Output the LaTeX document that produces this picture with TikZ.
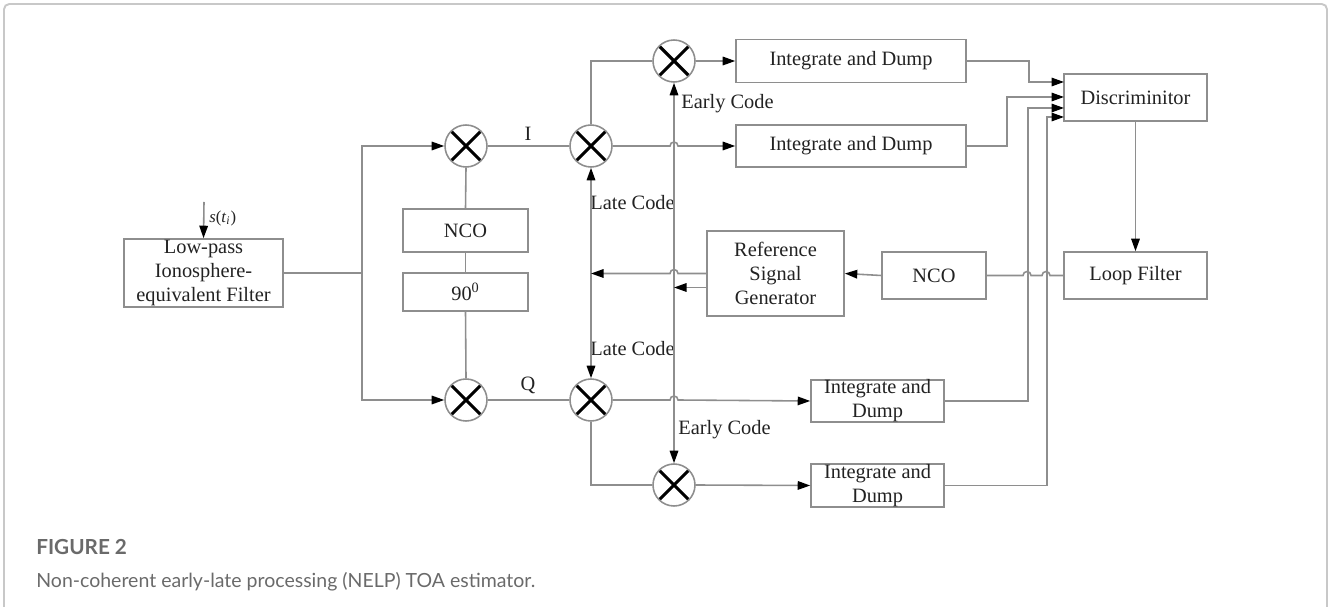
\documentclass[tikz,border=0pt]{standalone}
\usepackage{fontspec}
\setmainfont{Liberation Serif}
\newfontfamily\capfont{Lato}
\usetikzlibrary{arrows.meta}
\definecolor{linegray}{HTML}{8E8E8E}
\definecolor{textgray}{HTML}{222222}
\definecolor{capgray}{HTML}{6A6A6A}
\definecolor{framegray}{HTML}{C8C8C8}
\begin{document}
\begin{tikzpicture}[x=0.02cm, y=-0.02cm,
  font=\fontsize{11.6}{13.7}\selectfont, text=textgray,
  >={Triangle[length=0.25cm,width=0.17cm,color=black]},
  wire/.style={draw=linegray, line width=0.9pt},
  blk/.style={draw=linegray, line width=0.9pt, inner sep=0pt, align=center},
  mixer/.style={circle, draw=linegray, line width=0.9pt, minimum size=0.84cm, inner sep=0pt,
    path picture={\draw[black, line width=1.8pt]
      (path picture bounding box.north west) -- (path picture bounding box.south east)
      (path picture bounding box.north east) -- (path picture bounding box.south west);}},
  lbl/.style={inner sep=0pt}]
\useasboundingbox (0,0) rectangle (1328,607);
\draw[framegray, line width=1.1pt, rounded corners=3pt] (4,607) -- (4,4) -- (1327,4) -- (1327,607);

\node[blk, minimum width=3.18cm, minimum height=1.36cm] (lpf) at (203.5,273) {Low-pass\\Ionosphere-\\equivalent Filter};
\node[blk, minimum width=2.5cm, minimum height=0.86cm] (ncoA) at (465.5,230.5) {NCO};
\node[blk, minimum width=2.5cm, minimum height=0.76cm] (shift) at (465.5,292) {90\textsuperscript{0}};
\node[mixer] (mixI) at (466,146) {};
\node[mixer] (mixQ) at (466,400) {};
\node[mixer] (mixIl) at (591,146) {};
\node[mixer] (mixQl) at (591,400) {};
\node[mixer] (mixIe) at (674,61) {};
\node[mixer] (mixQe) at (674,485) {};
\node[blk, minimum width=4.6cm, minimum height=0.86cm] (intIe) at (851,61) {Integrate and Dump};
\node[blk, minimum width=4.6cm, minimum height=0.84cm] (intIl) at (851,146) {Integrate and Dump};
\node[blk, minimum width=2.66cm, minimum height=0.84cm] (intQl) at (877.5,401) {Integrate and\\Dump};
\node[blk, minimum width=2.66cm, minimum height=0.86cm] (intQe) at (877.5,485.5) {Integrate and\\Dump};
\node[blk, minimum width=2.74cm, minimum height=1.7cm] (refgen) at (775.5,273.5) {Reference\\Signal\\Generator};
\node[blk, minimum width=2.08cm, minimum height=0.94cm] (ncoB) at (934,275.5) {NCO};
\node[blk, minimum width=2.86cm, minimum height=0.94cm] (disc) at (1135.5,97.5) {Discriminitor};
\node[blk, minimum width=2.86cm, minimum height=0.94cm] (loopf) at (1135.5,275.5) {Loop Filter};

\node[lbl] (labI) at (528,134) {I};
\node[lbl] (labQ) at (528,385) {Q};
\node[lbl, anchor=west] (earlyI) at (681,104) {Early Code};
\node[lbl, anchor=west] (lateI) at (590,203) {Late Code};
\node[lbl, anchor=west] (lateQ) at (590,349) {Late Code};
\node[lbl, anchor=west] (earlyQ) at (678,430) {Early Code};
\coordinate (sig) at (204,202);
\node[lbl, anchor=west, font=\fontsize{9.5}{11}\selectfont] (sigl) at (209,218) {\textit{s}(\textit{t}\textsubscript{\textit{i}})};

\coordinate (split) at (362,273);
\coordinate (rg2) at ([yshift=-0.28cm]refgen.west);
\coordinate (in1) at (1064,82);
\coordinate (in2) at (1064,97);
\coordinate (in3) at (1064,108);
\coordinate (in4) at (1064,117);

\draw[wire, ->] (sig) -- (lpf.north);
\draw[wire] (lpf.east) -- (split);
\draw[wire, ->] (split) |- (mixI.west);
\draw[wire, ->] (split) |- (mixQ.west);
\draw[wire] (mixI.south) -- (ncoA.north);
\draw[wire] (ncoA.south) -- (shift.north);
\draw[wire] (shift.south) -- (mixQ.north);
\draw[wire] (mixI.east) -- (mixIl.west);
\draw[wire] (mixQ.east) -- (mixQl.west);
\draw[wire, ->] (mixIl.east) -- (670,146) arc[start angle=180, end angle=360, radius=4] -- (intIl.west);
\draw[wire, ->] (mixQl.east) -- (670,400) arc[start angle=180, end angle=360, radius=4] -- (intQl.west);
\draw[wire] (mixIl.north) |- (mixIe.west);
\draw[wire] (mixQl.south) |- (mixQe.west);
\draw[wire, ->] (mixIe.east) -- (intIe.west);
\draw[wire, ->] (mixQe.east) -- (intQe.west);
\draw[wire, <->] (mixIl.south) -- (mixQl.north);
\draw[wire, <->] (mixIe.south) -- (mixQe.north);
\draw[wire, ->] (refgen.west) -- (678,273.5) arc[start angle=0, end angle=-180, radius=4] -- (mixIl |- refgen.west);
\draw[wire, ->] (rg2) -- (mixIe |- rg2);
\draw[wire, ->] (ncoB.west) -- (refgen.east);
\draw[wire] (loopf.west) -- (1050,275.5) arc[start angle=0, end angle=-180, radius=4]
  -- (1031,275.5) arc[start angle=0, end angle=-180, radius=4] -- (ncoB.east);
\draw[wire, ->] (disc.south) -- (loopf.north);
\draw[wire, ->] (intIe.east) -- ++(62,0) |- (in1);
\draw[wire, ->] (intIl.east) -- ++(40,0) |- (in2);
\draw[wire, ->] (intQl.east) -- ++(83,0) |- (in3);
\draw[wire, ->] (intQe.east) -- ++(102,0) |- (in4);

\node[anchor=west, inner sep=0pt, font=\capfont\bfseries\fontsize{11.8}{13}\selectfont, text=capgray] (fignum) at (36,547) {FIGURE 2};
\node[anchor=west, inner sep=0pt, font=\capfont\fontsize{11.1}{13}\selectfont, text=capgray] (figcap) at (36,582) {Non-coherent early-late processing (NELP) TOA estimator.};
\end{tikzpicture}
\end{document}
